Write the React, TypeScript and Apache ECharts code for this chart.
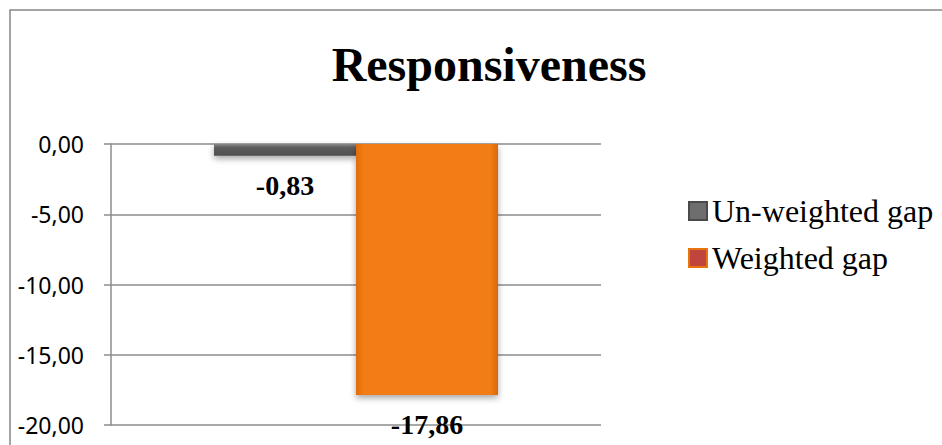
import React, { useEffect, useRef } from "react";
import * as echarts from "echarts";

const categories = ["Responsiveness"];
const seriesNames = ["Un-weighted gap", "Weighted gap"];
const unweightedValues = [-0.83];
const weightedValues = [-17.86];
const yTicks = { min: -20, max: 0, interval: 5 };

const fmt = (v: number) => v.toFixed(2).replace(".", ",");

export default function App() {
  const ref = useRef<HTMLDivElement>(null);
  useEffect(() => {
    if (!ref.current) return;
    const chart = echarts.init(ref.current, undefined, { renderer: "svg" });
    const labelStyle = {
      show: true,
      position: "outside",
      distance: 16,
      fontFamily: "Liberation Serif",
      fontWeight: "bold",
      fontSize: 28,
      color: "#000",
      formatter: (p: any) => fmt(p.value),
    };
    chart.setOption({
      animation: false,
      backgroundColor: "#fff",
      title: {
        text: "Responsiveness",
        left: 484,
        textAlign: "center",
        top: 35,
        textStyle: {
          fontFamily: "Liberation Serif",
          fontWeight: "bold",
          fontSize: 48,
          color: "#000",
        },
      },
      legend: {
        orient: "vertical",
        left: 683,
        top: 190,
        itemWidth: 18,
        itemHeight: 18,
        itemGap: 15,
        icon: "rect",
        textStyle: {
          fontFamily: "Liberation Serif",
          fontSize: 32,
          lineHeight: 32,
          color: "#000",
        },
        data: [
          {
            name: seriesNames[0],
            itemStyle: { color: "#6e6e6e", borderColor: "#4a4a4a", borderWidth: 2 },
          },
          {
            name: seriesNames[1],
            itemStyle: { color: "#C0453C", borderColor: "#E8740E", borderWidth: 2 },
          },
        ],
      },
      grid: { left: 111, right: 341, top: 144, bottom: 20 },
      xAxis: {
        type: "category",
        data: categories,
        axisLine: { show: false },
        axisTick: { show: false },
        axisLabel: { show: false },
      },
      yAxis: {
        type: "value",
        min: yTicks.min,
        max: yTicks.max,
        interval: yTicks.interval,
        axisLine: { show: true, lineStyle: { color: "#8c8c8c", width: 1.5 } },
        axisTick: { show: true, length: 7, lineStyle: { color: "#8c8c8c", width: 1.5 } },
        splitLine: { show: true, lineStyle: { color: "#8c8c8c", width: 1.5 } },
        axisLabel: {
          margin: 27,
          fontFamily: "Noto Sans",
          fontSize: 23,
          color: "#000",
          formatter: (v: number) => fmt(v),
        },
      },
      graphic: [
        {
          type: "rect",
          shape: { x: 10, y: 10, width: 960, height: 460 },
          style: { fill: "none", stroke: "#868686", lineWidth: 1.5 },
          silent: true,
        },
      ],
      series: [
        {
          name: seriesNames[0],
          type: "bar",
          data: unweightedValues,
          barWidth: 142,
          barGap: "0%",
          itemStyle: {
            color: new echarts.graphic.LinearGradient(0, 0, 0, 1, [
              { offset: 0, color: "#8a8a8a" },
              { offset: 0.3, color: "#5e5e5e" },
              { offset: 1, color: "#4f4f4f" },
            ]),
            shadowColor: "rgba(0,0,0,0.35)",
            shadowBlur: 6,
            shadowOffsetY: 3,
          },
          label: labelStyle,
        },
        {
          name: seriesNames[1],
          type: "bar",
          data: weightedValues,
          barWidth: 142,
          barGap: "0%",
          itemStyle: {
            color: new echarts.graphic.LinearGradient(0, 0, 1, 0, [
              { offset: 0, color: "#E06C08" },
              { offset: 0.05, color: "#F27B12" },
              { offset: 0.95, color: "#F27B12" },
              { offset: 1, color: "#D8680A" },
            ]),
            shadowColor: "rgba(0,0,0,0.35)",
            shadowBlur: 6,
            shadowOffsetY: 3,
          },
          label: labelStyle,
        },
      ],
    });
    return () => chart.dispose();
  }, []);
  return (
    <div
      ref={ref}
      style={{ position: "absolute", left: 0, top: 0, width: 942, height: 445 }}
    />
  );
}
